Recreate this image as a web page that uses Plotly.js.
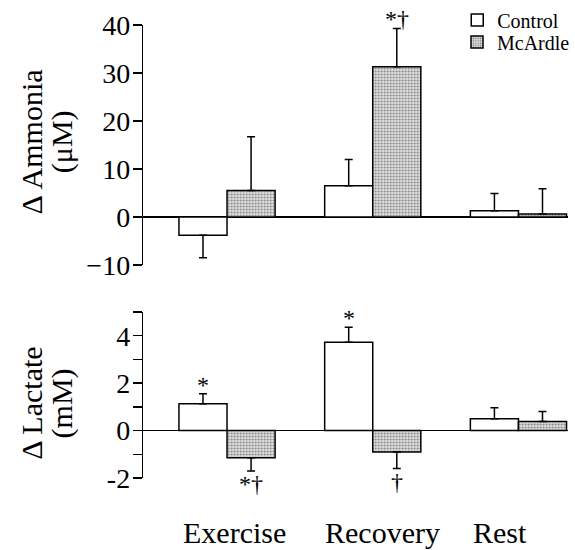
<!DOCTYPE html>
<html>
<head>
<meta charset="utf-8">
<script src="https://cdn.plot.ly/plotly-3.0.1.min.js"></script>
<style>html,body{margin:0;padding:0;background:#fff;}</style>
</head>
<body>
<div id="chart" style="width:575px;height:550px;"></div>
<script>
// ---- data ----
const categories = ["Exercise", "Recovery", "Rest"];
const seriesNames = ["Control", "McArdle"];

const ammoniaControl = [-3.8, 6.5, 1.3];
const ammoniaControlErr = [4.7, 5.5, 3.6];
const ammoniaMcArdle = [5.5, 31.3, 0.6];
const ammoniaMcArdleErr = [11.2, 8.0, 5.3];

const lactateControl = [1.13, 3.73, 0.5];
const lactateControlErr = [0.42, 0.63, 0.46];
const lactateMcArdle = [-1.15, -0.9, 0.38];
const lactateMcArdleErr = [0.55, 0.7, 0.42];

const ammoniaTicks = [-10, 0, 10, 20, 30, 40];
const lactateTicks = [-2, -1, 0, 1, 2, 3, 4, 5];
const lactateTickText = ["-2", "", "0", "", "2", "", "4", ""];

const ammoniaTitle = ["\u0394 Ammonia", "(\u03bcM)"];
const lactateTitle = ["\u0394 Lactate", "(mM)"];

// significance markers: [panel, series, categoryIndex, text]
const sigMarks = [
  ["ammonia", "McArdle", 1, "*\u2020"],
  ["lactate", "Control", 0, "*"],
  ["lactate", "McArdle", 0, "*\u2020"],
  ["lactate", "Control", 1, "*"],
  ["lactate", "McArdle", 1, "\u2020"]
];

// ---- helpers ----
const serif = "Liberation Serif";
const catIdx = categories.map((c, i) => i);
function upErr(vals, errs) { return vals.map((v, i) => v >= 0 ? errs[i] : 0); }
function downErr(vals, errs) { return vals.map((v, i) => v < 0 ? errs[i] : 0); }

const outline = { color: "#000", width: 1.5 };
const controlMarker = { color: "#ffffff", line: outline };
const mcardleMarker = {
  color: "#ffffff", line: outline,
  pattern: { shape: ".", fgcolor: "#7a7a7a", bgcolor: "#e0e0e0", size: 3, solidity: 0.3 }
};
function errSpec(vals, errs) {
  return { type: "data", symmetric: false, array: upErr(vals, errs), arrayminus: downErr(vals, errs),
           color: "#000", thickness: 1.5, width: 4 };
}

const traces = [
  { type: "bar", name: seriesNames[0], x: catIdx, y: ammoniaControl, marker: controlMarker,
    error_y: errSpec(ammoniaControl, ammoniaControlErr), xaxis: "x", yaxis: "y", legend: "legend" },
  { type: "bar", name: seriesNames[1], x: catIdx, y: ammoniaMcArdle, marker: mcardleMarker,
    error_y: errSpec(ammoniaMcArdle, ammoniaMcArdleErr), xaxis: "x", yaxis: "y", legend: "legend2" },
  { type: "bar", name: seriesNames[0], x: catIdx, y: lactateControl, marker: controlMarker,
    error_y: errSpec(lactateControl, lactateControlErr), xaxis: "x2", yaxis: "y2", showlegend: false },
  { type: "bar", name: seriesNames[1], x: catIdx, y: lactateMcArdle, marker: mcardleMarker,
    error_y: errSpec(lactateMcArdle, lactateMcArdleErr), xaxis: "x2", yaxis: "y2", showlegend: false }
];

const bargap = 0.34;
const barW = (1 - bargap) / 2;
const annotations = [];

const dataMap = {
  ammonia: { Control: [ammoniaControl, ammoniaControlErr], McArdle: [ammoniaMcArdle, ammoniaMcArdleErr], x: "x", y: "y" },
  lactate: { Control: [lactateControl, lactateControlErr], McArdle: [lactateMcArdle, lactateMcArdleErr], x: "x2", y: "y2" }
};
sigMarks.forEach(([panel, series, ci, txt]) => {
  const d = dataMap[panel];
  const [vals, errs] = d[series];
  const v = vals[ci];
  const tip = v >= 0 ? v + errs[ci] : v - errs[ci];
  const off = series === "Control" ? -barW / 2 : barW / 2;
  annotations.push({
    x: ci + off, y: tip, xref: d.x, yref: d.y, text: txt, showarrow: false,
    yanchor: v >= 0 ? "bottom" : "top", yshift: v >= 0 ? -6 : 2,
    font: { family: serif, size: 24, color: "#000" }
  });
});

const labelShift = [7, 10, -18];
categories.forEach((c, i) => {
  annotations.push({
    x: i, xref: "x2", y: 0.031, yref: "paper", text: c, showarrow: false,
    xshift: labelShift[i], yanchor: "middle",
    font: { family: serif, size: 30, color: "#000" }
  });
});

// axis titles (two tightly spaced rotated lines)
function addTitle(lines, yCenter) {
  const xs = [0.0557, 0.1096];
  lines.forEach((t, k) => {
    annotations.push({
      x: xs[k], y: yCenter, xref: "paper", yref: "paper", text: t, showarrow: false,
      textangle: -90, xanchor: "center", yanchor: "middle",
      font: { family: serif, size: 30, color: "#000" }
    });
  });
}
addTitle(ammoniaTitle, 0.742);
addTitle(lactateTitle, 0.267);

const xcommon = { range: [-0.575, 2.34], showline: false, showticklabels: false, ticks: "",
                  zeroline: false, showgrid: false, domain: [0.2522, 1], fixedrange: true };
const ycommon = { showline: true, linecolor: "#000", linewidth: 1.5, ticks: "outside", ticklen: 9,
                  tickwidth: 1.5, tickcolor: "#000", showgrid: false, zeroline: true, zerolinecolor: "#000",
                  zerolinewidth: 1.5, ticklabelstandoff: -3,
                  tickfont: { family: serif, size: 28, color: "#000" }, fixedrange: true };

const legendCommon = { xanchor: "left", yanchor: "top", bgcolor: "rgba(0,0,0,0)",
                       font: { family: serif, size: 20, color: "#000" } };

const layout = {
  width: 575, height: 550,
  margin: { l: 0, r: 0, t: 0, b: 0 },
  paper_bgcolor: "#fff", plot_bgcolor: "rgba(0,0,0,0)",
  barmode: "group", bargap: bargap, bargroupgap: 0,
  font: { family: serif, color: "#000" },
  showlegend: true,
  legend: Object.assign({ x: 0.805, y: 0.999 }, legendCommon),
  legend2: Object.assign({ x: 0.805, y: 0.959 }, legendCommon),
  xaxis: Object.assign({}, xcommon, { anchor: "y" }),
  xaxis2: Object.assign({}, xcommon, { anchor: "y2" }),
  yaxis: Object.assign({}, ycommon, {
    domain: [0.5182, 0.9545], range: [-10, 40], tickvals: ammoniaTicks, anchor: "x"
  }),
  yaxis2: Object.assign({}, ycommon, {
    domain: [0.1309, 0.4327], range: [-2, 5], tickvals: lactateTicks, ticktext: lactateTickText, anchor: "x2"
  }),
  annotations: annotations
};

Plotly.newPlot("chart", traces, layout, { staticPlot: true, displayModeBar: false });
</script>
</body>
</html>
